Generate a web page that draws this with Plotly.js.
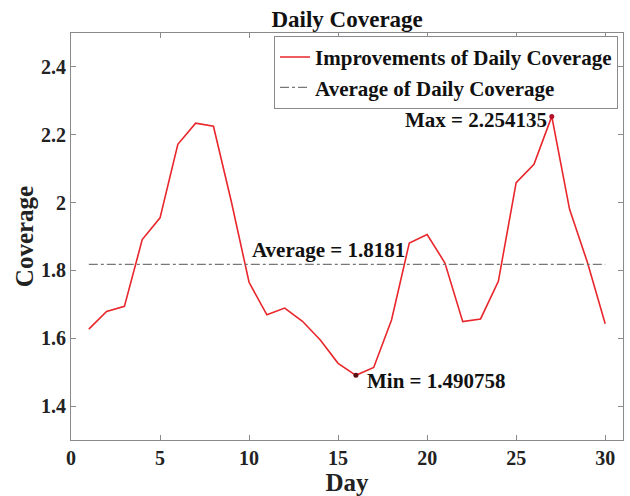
<!DOCTYPE html>
<html>
<head>
<meta charset="utf-8">
<script src="https://cdn.plot.ly/plotly-3.0.1.min.js"></script>
<style>html,body{margin:0;padding:0;background:#fff;}#chart{width:630px;height:496px;}</style>
</head>
<body>
<div id="chart"></div>
<script>
const days = [1,2,3,4,5,6,7,8,9,10,11,12,13,14,15,16,17,18,19,20,21,22,23,24,25,26,27,28,29,30];
const coverage = [1.627,1.679,1.694,1.891,1.955,2.172,2.234,2.225,2.004,1.765,
                  1.669,1.689,1.650,1.595,1.526,1.490758,1.514,1.654,1.881,1.906,
                  1.822,1.649,1.657,1.768,2.059,2.113,2.254135,1.980,1.824,1.643];
const averageValue = 1.8181;
const averageX = [1, 30];
const averageY = [averageValue, averageValue];
const maxDay = 27, maxValue = 2.254135;
const minDay = 16, minValue = 1.490758;
const seriesNames = ['Improvements of Daily Coverage', 'Average of Daily Coverage'];

const F = 'Liberation Serif, Times New Roman, serif';

const traces = [
  {x: days, y: coverage, type: 'scatter', mode: 'lines', name: '<b>' + seriesNames[0] + '</b>',
   line: {color: '#e8262b', width: 1.6}},
  {x: averageX, y: averageY, type: 'scatter', mode: 'lines', name: '<b>' + seriesNames[1] + '</b>',
   line: {color: '#777777', width: 1.2, dash: 'dashdot'}},
  {x: [maxDay], y: [maxValue], type: 'scatter', mode: 'markers', showlegend: false,
   marker: {color: '#b0102a', size: 5}},
  {x: [minDay], y: [minValue], type: 'scatter', mode: 'markers', showlegend: false,
   marker: {color: '#5a1010', size: 5}}
];

const axisCommon = {
  showline: true, linecolor: '#8a8a8a', linewidth: 1, mirror: 'ticks',
  ticks: 'inside', ticklen: 5, tickcolor: '#8a8a8a', showgrid: false, zeroline: false,
  tickfont: {family: F, size: 20, color: '#222', weight: 'bold'}
};

const layout = {
  width: 630, height: 496,
  margin: {l: 71, r: 7, t: 33, b: 56},
  paper_bgcolor: '#fff', plot_bgcolor: '#fff',
  title: {text: '<b>Daily Coverage</b>', font: {family: F, size: 23, color: '#111'},
          x: 0.551, xanchor: 'center', y: 0.962, yanchor: 'middle'},
  xaxis: Object.assign({}, axisCommon, {range: [0, 31], dtick: 5, tick0: 0,
    title: {text: '<b>Day</b>', font: {family: F, size: 25, color: '#222'}, standoff: 2}}),
  yaxis: Object.assign({}, axisCommon, {range: [1.3, 2.5], dtick: 0.2, tick0: 1.4,
    title: {text: '<b>Coverage</b>', font: {family: F, size: 25, color: '#222'}, standoff: 0}}),
  showlegend: true,
  legend: {x: 0.991, y: 0.993, xanchor: 'right', yanchor: 'top',
    bgcolor: '#fff', bordercolor: '#8a8a8a', borderwidth: 1,
    font: {family: F, size: 21, color: '#111'}, tracegroupgap: 0, itemwidth: 30},
  annotations: [
    {x: 10.2, y: averageValue, xref: 'x', yref: 'y', xanchor: 'left', yanchor: 'bottom',
     text: '<b>Average = ' + averageValue + '</b>', showarrow: false, xshift: -3, yshift: 0,
     font: {family: F, size: 21, color: '#111'}},
    {x: maxDay, y: maxValue, xref: 'x', yref: 'y', xanchor: 'right', yanchor: 'middle',
     text: '<b>Max = ' + maxValue + '</b>', showarrow: false, xshift: -3, yshift: -4,
     font: {family: F, size: 21, color: '#111'}},
    {x: minDay, y: minValue, xref: 'x', yref: 'y', xanchor: 'left', yanchor: 'middle',
     text: '<b>Min = ' + minValue + '</b>', showarrow: false, xshift: 9, yshift: -6,
     font: {family: F, size: 21, color: '#111'}}
  ]
};

Plotly.newPlot('chart', traces, layout, {displayModeBar: false, staticPlot: true});
</script>
</body>
</html>
